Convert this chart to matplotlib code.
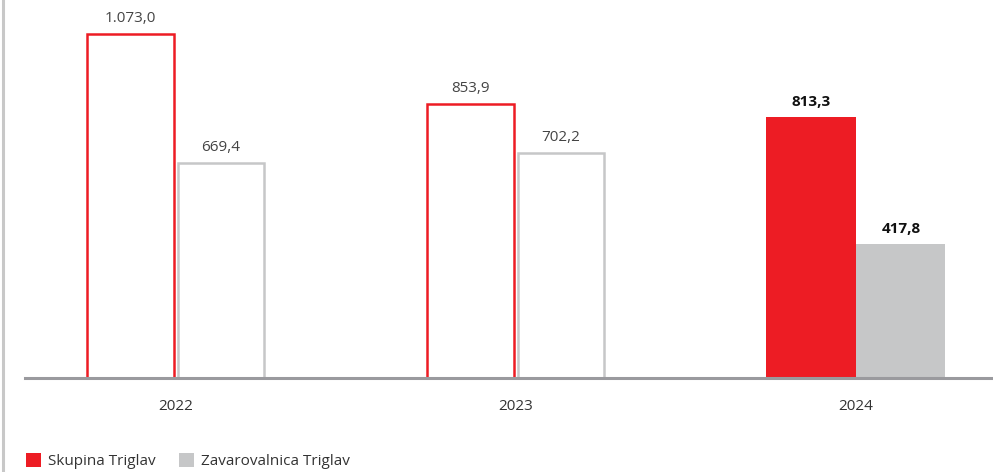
import numpy as np
import matplotlib.pyplot as plt
from matplotlib.lines import Line2D
from matplotlib.patches import Patch

plt.rcParams['font.family'] = ['Open Sans', 'DejaVu Sans']

years = ['2022', '2023', '2024']
skupina = [1073.0, 853.9, 813.3]
zavarovalnica = [669.4, 702.2, 417.8]
labels_skupina = ['1.073,0', '853,9', '813,3']
labels_zav = ['669,4', '702,2', '417,8']
series_names = ['Skupina Triglav', 'Zavarovalnica Triglav']

red = '#ED1C24'
grey = '#C6C7C8'

fig = plt.figure(figsize=(9.93, 4.72), dpi=100)
ax = fig.add_axes([0.0252, 0.199, 0.9748, 0.801])

x = np.arange(len(years))

for i in range(len(years)):
    last = i == len(years) - 1
    if last:
        ax.bar(x[i] - 0.133, skupina[i], 0.264, color=red, linewidth=0)
        ax.bar(x[i] + 0.131, zavarovalnica[i], 0.262, color=grey, linewidth=0)
    else:
        ax.bar(x[i] - 0.134, skupina[i], 0.255, facecolor='white', edgecolor=red, linewidth=1.8)
        ax.bar(x[i] + 0.132, zavarovalnica[i], 0.255, facecolor='white', edgecolor=grey, linewidth=1.8)
    kw = dict(ha='center', va='bottom', fontsize=11,
              fontweight='bold' if last else 'normal',
              color='#111111' if last else '#444444')
    ax.annotate(labels_skupina[i], (x[i] - 0.133, skupina[i]), xytext=(0, 6),
                textcoords='offset points', **kw)
    ax.annotate(labels_zav[i], (x[i] + 0.132, zavarovalnica[i]), xytext=(0, 6),
                textcoords='offset points', **kw)

ax.set_xlim(-0.444, 2.403)
ax.set_ylim(0, 1179)
ax.set_xticks(x)
ax.set_xticklabels(years, fontsize=11, color='#333333')
ax.tick_params(axis='x', length=0, pad=15)
ax.set_yticks([])
for s in ['top', 'right', 'left']:
    ax.spines[s].set_visible(False)
ax.spines['bottom'].set_color('#9A9A9E')
ax.spines['bottom'].set_linewidth(2.2)
ax.spines['bottom'].set_zorder(5)

# page border line on the left
fig.add_artist(Line2D([0.003, 0.003], [0, 1], color='#C8C8C8', linewidth=2.2,
                      transform=fig.transFigure))

handles = [Patch(facecolor=red, edgecolor='none'), Patch(facecolor=grey, edgecolor='none')]
fig.legend(handles, series_names, loc='lower left', bbox_to_anchor=(0.026, 0.006),
           ncol=2, frameon=False, fontsize=11, handlelength=1.0, handleheight=1.0,
           handletextpad=0.45, columnspacing=1.5, labelcolor='#333333',
           borderpad=0, borderaxespad=0)

fig.savefig('out.png', dpi=100)
